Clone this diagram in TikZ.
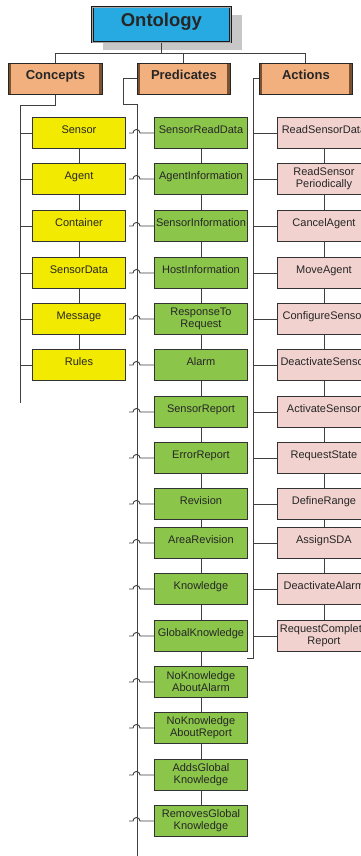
\documentclass[tikz,border=0pt]{standalone}
\usepackage{fontspec}
\setmainfont{Liberation Sans}
\definecolor{ontblue}{HTML}{27AAE1}
\definecolor{headorg}{HTML}{F2B07E}
\definecolor{headbrn}{HTML}{7A5232}
\definecolor{conyel}{HTML}{F2EA00}
\definecolor{pregrn}{HTML}{8BC54A}
\definecolor{actpink}{HTML}{F1D2CF}
\begin{document}
\begin{tikzpicture}[x=1pt, y=-1pt,
	link/.style={draw=black!75, line width=0.9pt},
	box/.style={draw=black!80, line width=0.9pt, minimum width=93pt, minimum height=31pt, inner sep=1pt,
		anchor=north west, align=center, font=\fontsize{11}{12}\selectfont, text=black!85},
	oneline/.style={text height=4.5pt, text depth=3.5pt},
	twoline/.style={},
	cbox/.style={box, fill=conyel},
	pbox/.style={box, fill=pregrn},
	abox/.style={box, fill=actpink},
	head/.style={draw=black!85, line width=0.8pt, fill=headorg, minimum width=93pt, minimum height=31pt,
		inner sep=1pt, anchor=north west, font=\bfseries\fontsize{13}{14}\selectfont, text=black!85,
		text height=5.5pt, text depth=4.5pt,
		path picture={
			\fill[headbrn] (path picture bounding box.north west) rectangle ([xshift=3pt]path picture bounding box.south west);
			\fill[headbrn] (path picture bounding box.north east) rectangle ([xshift=-3pt]path picture bounding box.south east);
		}}]
	\useasboundingbox (0,0) rectangle (361,856);
	\clip (0,0) rectangle (361,856);
	
	% root with its shadow
	\fill[black!22] (103,15) rectangle (242,50);
	\node[draw=black!90, line width=0.8pt, double=black!35, double distance=0.6pt, fill=ontblue,
		minimum width=138pt, minimum height=35pt, anchor=north west, inner sep=0pt,
		font=\bfseries\fontsize{18.5}{20}\selectfont, text=black!85, text height=7pt, text depth=3pt] (ont) at (92,7) {Ontology};
	
	% the three branches
	\node[head, minimum width=94pt] (con) at (8,63) {Concepts};
	\node[head] (pre) at (137,63) {Predicates};
	\node[head] (act) at (259,63) {Actions};
	\draw[link] (ont.south) -- ++(0,11) coordinate (bus);
	\draw[link] (con.north) |- (bus) -| (act.north);
	\draw[link] (pre.north) -- (pre.north |- bus);
	
	% spines
	\coordinate (cend) at (20,403);
	\coordinate (pend) at (137,856);
	\coordinate (aend) at (253,658);
	\draw[link] (con.south) -- ++(0,11) -| (cend);
	\draw[link] (pre.west) -- ++(-14,0) -- ++(0,26) -- ++(14,0) -- (pend);
	\draw[link] (act.west) -- ++(-6,0) -- (aend) -- ++(-6,0);
	
	% concepts
	\foreach \n/\y/\t in {c1/117/Sensor, c2/163/Agent, c3/210/Container, c4/257/SensorData,
		c5/303/Message, c6/349/Rules}
		\node[cbox, oneline] (\n) at (32,\y) {\t};
	\foreach \i [count=\j from 2] in {1,...,5}
		\draw[link] (c\i) -- (c\j);
	\foreach \i in {1,...,6}
		\draw[link] (c\i.west) -- (cend |- c\i.west);
	
	% predicates
	\foreach \n/\y/\s/\t in {p1/117/oneline/SensorReadData, p2/163/oneline/AgentInformation,
		p3/210/oneline/SensorInformation, p4/257/oneline/HostInformation,
		p5/303/twoline/{ResponseTo\\Request}, p6/349/oneline/Alarm, p7/396/oneline/SensorReport,
		p8/442/oneline/ErrorReport, p9/488/oneline/Revision, p10/527/oneline/AreaRevision,
		p11/573/oneline/Knowledge, p12/620/oneline/GlobalKnowledge,
		p13/666/twoline/{NoKnowledge\\AboutAlarm}, p14/712/twoline/{NoKnowledge\\AboutReport},
		p15/759/twoline/{AddsGlobal\\Knowledge}, p16/805/twoline/{RemovesGlobal\\Knowledge}}
		\node[pbox, \s] (\n) at (154,\y) {\t};
	\foreach \i [count=\j from 2] in {1,...,15}
		\draw[link] (p\i) -- (p\j);
	\foreach \i in {1,...,16}
		\draw[link] (p\i.west) -- ++(-14,0) arc[start angle=0, end angle=-180, radius=3.5] -- ++(-4,0);
	
	% actions
	\foreach \n/\y/\s/\t in {a1/117/oneline/ReadSensorData, a2/163/twoline/{ReadSensor\\Periodically},
		a3/210/oneline/CancelAgent, a4/257/oneline/MoveAgent, a5/303/oneline/ConfigureSensor,
		a6/349/oneline/DeactivateSensor, a7/396/oneline/ActivateSensor, a8/442/oneline/RequestState,
		a9/488/oneline/DefineRange, a10/527/oneline/AssignSDA, a11/573/oneline/DeactivateAlarm,
		a12/620/twoline/{RequestComplete\\Report}}
		\node[abox, \s] (\n) at (277,\y) {\t};
	\foreach \i [count=\j from 2] in {1,...,11}
		\draw[link] (a\i) -- (a\j);
	\foreach \i in {1,...,12}
		\draw[link] (a\i.west) -- (aend |- a\i.west);
\end{tikzpicture}
\end{document}
